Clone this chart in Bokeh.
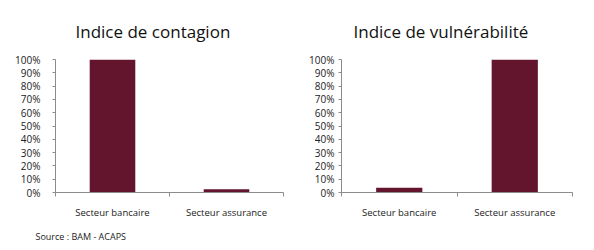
from bokeh.plotting import figure
from bokeh.layouts import row
from bokeh.models import Range1d, FixedTicker, NumeralTickFormatter, Title
from bokeh.embed import file_html
from bokeh.resources import INLINE

categories = ["Secteur bancaire", "Secteur assurance"]
contagion = [1.00, 0.025]
vulnerabilite = [0.035, 1.00]
y_ticks = [0.0, 0.1, 0.2, 0.3, 0.4, 0.5, 0.6, 0.7, 0.8, 0.9, 1.0]
titles = ["Indice de contagion", "Indice de vulnérabilité"]
source_text = "Source : BAM - ACAPS"

BAR = "#63152e"
AXIS = "#8c8c8c"
FONT = "Open Sans"
TXT = "#222222"


def make_chart(title, values, width, bl, br, title_offset, ylab_standoff, with_source=False):
    p = figure(width=width, height=250, output_backend="svg", toolbar_location=None,
               x_range=Range1d(0, len(categories)), y_range=Range1d(0, 1),
               min_border_left=bl, min_border_right=br, min_border_top=58, min_border_bottom=58)
    p.outline_line_color = None
    p.xgrid.grid_line_color = None
    p.ygrid.grid_line_color = None
    centers = [i + 0.5 for i in range(len(categories))]
    p.vbar(x=centers, top=values, width=0.4, color=BAR, line_color=None)

    xa = p.xaxis[0]
    xa.ticker = FixedTicker(ticks=centers, minor_ticks=list(range(len(categories) + 1)))
    xa.major_label_overrides = {c: cat for c, cat in zip(centers, categories)}
    xa.major_tick_line_color = None
    xa.major_tick_out = 0
    xa.minor_tick_line_color = AXIS
    xa.minor_tick_out = 4
    xa.minor_tick_in = 0
    xa.axis_line_color = AXIS
    xa.major_label_standoff = 9
    xa.major_label_text_font = FONT
    xa.major_label_text_font_size = "9.5px"
    xa.major_label_text_color = TXT

    ya = p.yaxis[0]
    ya.ticker = FixedTicker(ticks=y_ticks)
    ya.formatter = NumeralTickFormatter(format="0%")
    ya.axis_line_color = AXIS
    ya.major_tick_line_color = AXIS
    ya.major_tick_out = 3
    ya.major_tick_in = 0
    ya.minor_tick_line_color = None
    ya.major_label_standoff = ylab_standoff
    ya.major_label_text_font = FONT
    ya.major_label_text_font_size = "10px"
    ya.major_label_text_color = TXT

    p.title.text = title
    p.title.align = "left"
    p.title.offset = title_offset
    p.title.text_font = FONT
    p.title.text_font_size = "17px"
    p.title.text_font_style = "normal"
    p.title.text_color = "#111111"
    p.title.standoff = 34

    if with_source:
        p.add_layout(Title(text=source_text, align="left", offset=-20, text_font=FONT,
                           text_font_size="9px", text_font_style="normal",
                           text_color=TXT, standoff=12), "below")
    return p


p1 = make_chart(titles[0], contagion, 297, 55, 14, 20, 12, with_source=True)
p2 = make_chart(titles[1], vulnerabilite, 297, 44, 22, 12, 4)
layout = row(p1, p2)

open("out.html", "w").write(file_html(layout, INLINE))
